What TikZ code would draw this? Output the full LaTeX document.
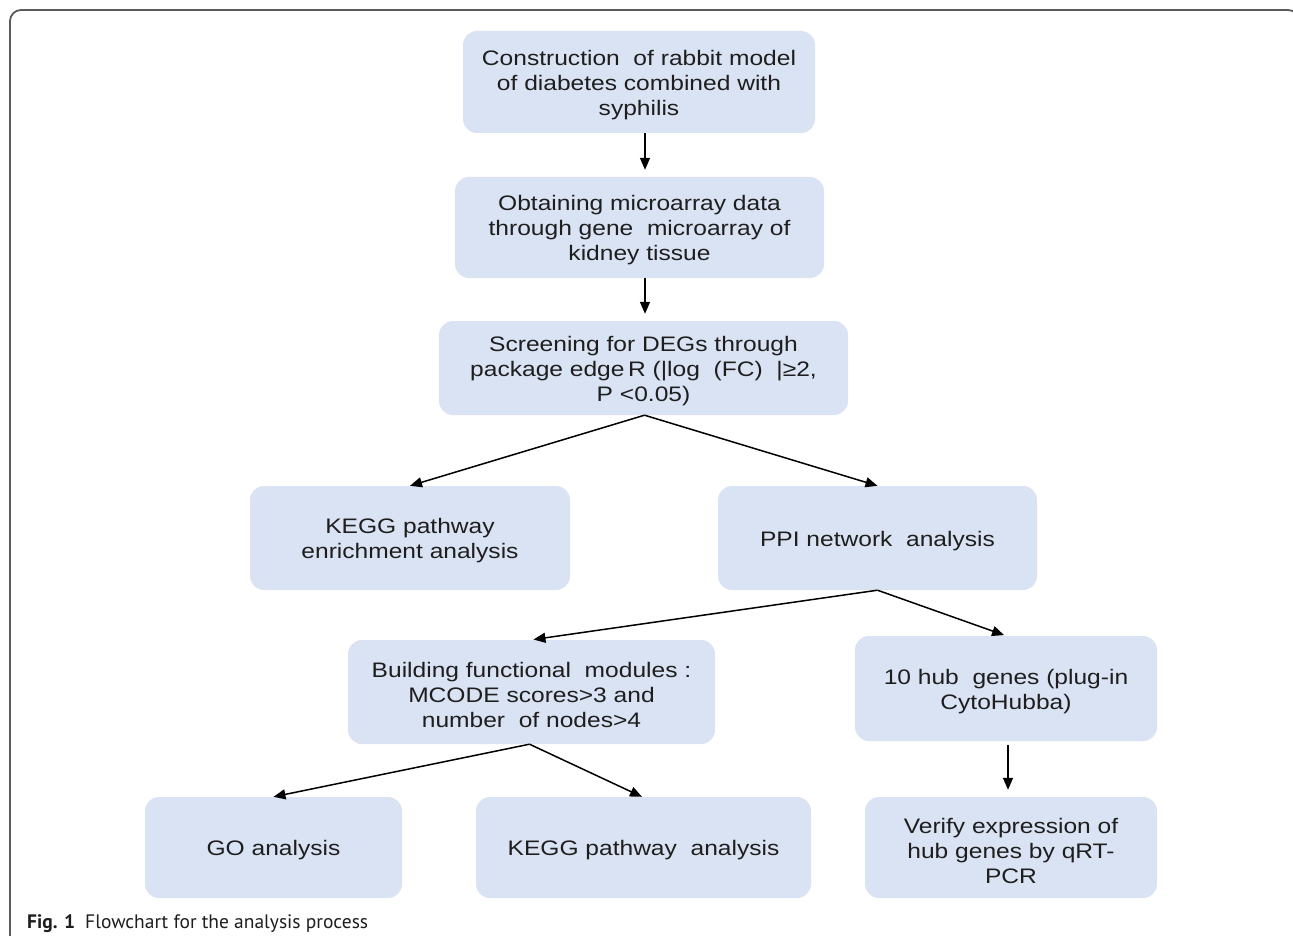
\documentclass[tikz,border=0pt]{standalone}
\usepackage{fontspec}
\setmainfont{Liberation Sans}[FakeStretch=1.17]
\newfontfamily\capfont{PT Sans}
\usetikzlibrary{arrows.meta}
\definecolor{boxfill}{HTML}{DAE3F3}
\definecolor{txt}{HTML}{1E1E1E}
\definecolor{framec}{HTML}{5A5A5A}
\tikzset{
  stepbox/.style={fill=boxfill, rounded corners=14pt, inner sep=0pt},
  steptext/.style={inner sep=0pt, align=center, text=txt, font=\fontsize{21}{25}\selectfont, yshift=-3pt},
  arr/.style={line width=1.5pt, -{Triangle[length=12pt,width=10pt]}, black},
}
\newcommand{\flowbox}[6]{%
  \node[stepbox, minimum width=#3pt, minimum height=#4pt] (#1) at (#2) {};
  \node[steptext] (#1t) at (#1.center) {#6};
}
\begin{document}
\begin{tikzpicture}[x=1pt,y=-1pt]
\useasboundingbox (0,0) rectangle (1293,936);
\clip (0,0) rectangle (1293,936);
\fill[white] (0,0) rectangle (1293,936);
\draw[framec, line width=1.8pt, rounded corners=11pt] (10,940) -- (10,10) -- (1299,10) -- (1299,60);

\flowbox{b1}{639,82}{352}{102}{}{Construction\ \ of rabbit model\\of diabetes combined with\\syphilis}
\flowbox{b2}{639.5,227.5}{369}{101}{}{Obtaining microarray data\\through gene\ \ microarray of\\kidney tissue}
\flowbox{b3}{643.5,368}{409}{94}{}{Screening for DEGs through\\package edge\,R (|log\ \ (FC)\ \ |≥2,\\P <0.05)}
\flowbox{b4}{410,538}{320}{104}{}{KEGG pathway\\enrichment analysis}
\flowbox{b5}{877.5,538}{319}{104}{}{PPI network\ \ analysis}
\flowbox{b6}{531.5,692}{367}{104}{}{Building functional\ \ modules :\\MCODE scores>3 and\\number\ \ of nodes>4}
\flowbox{b7}{1006,688.5}{302}{105}{}{10 hub\ \ genes (plug-in\\CytoHubba)}
\flowbox{b8}{273.5,847.5}{257}{101}{}{GO analysis}
\flowbox{b9}{643.5,847.5}{335}{101}{}{KEGG pathway\ \ analysis}
\flowbox{b10}{1011,847.5}{292}{101}{}{Verify expression of\\hub genes by qRT-\\PCR}

\draw[arr, shorten >=7pt] ([xshift=6pt]b1.south) -- ([xshift=5.5pt]b2.north);
\draw[arr, shorten >=7pt] ([xshift=5.5pt]b2.south) -- ([xshift=1.5pt]b3.north);
\draw[arr] ([xshift=1pt]b3.south) -- (b4.north);
\draw[arr] ([xshift=1pt]b3.south) -- (b5.north);
\draw[arr, shorten >=2pt] (b5.south) -- (b6.north);
\draw[arr, shorten >=2pt] (b5.south) -- (b7.north);
\draw[arr] ([xshift=-2pt]b6.south) -- (b8.north);
\draw[arr] ([xshift=-2pt]b6.south) -- ([xshift=-1.5pt]b9.north);
\coordinate (h7) at ([xshift=2pt,yshift=-4pt]b7.south);
\draw[arr, shorten >=7pt] (h7) -- (h7 |- b10.north);

\node[anchor=base west, inner sep=0pt, text=txt, font=\capfont\fontsize{19.5}{22}\selectfont] (cap) at (27,928)
  {\textbf{Fig. 1}\hspace{10pt}Flowchart for the analysis process};
\end{tikzpicture}
\end{document}
